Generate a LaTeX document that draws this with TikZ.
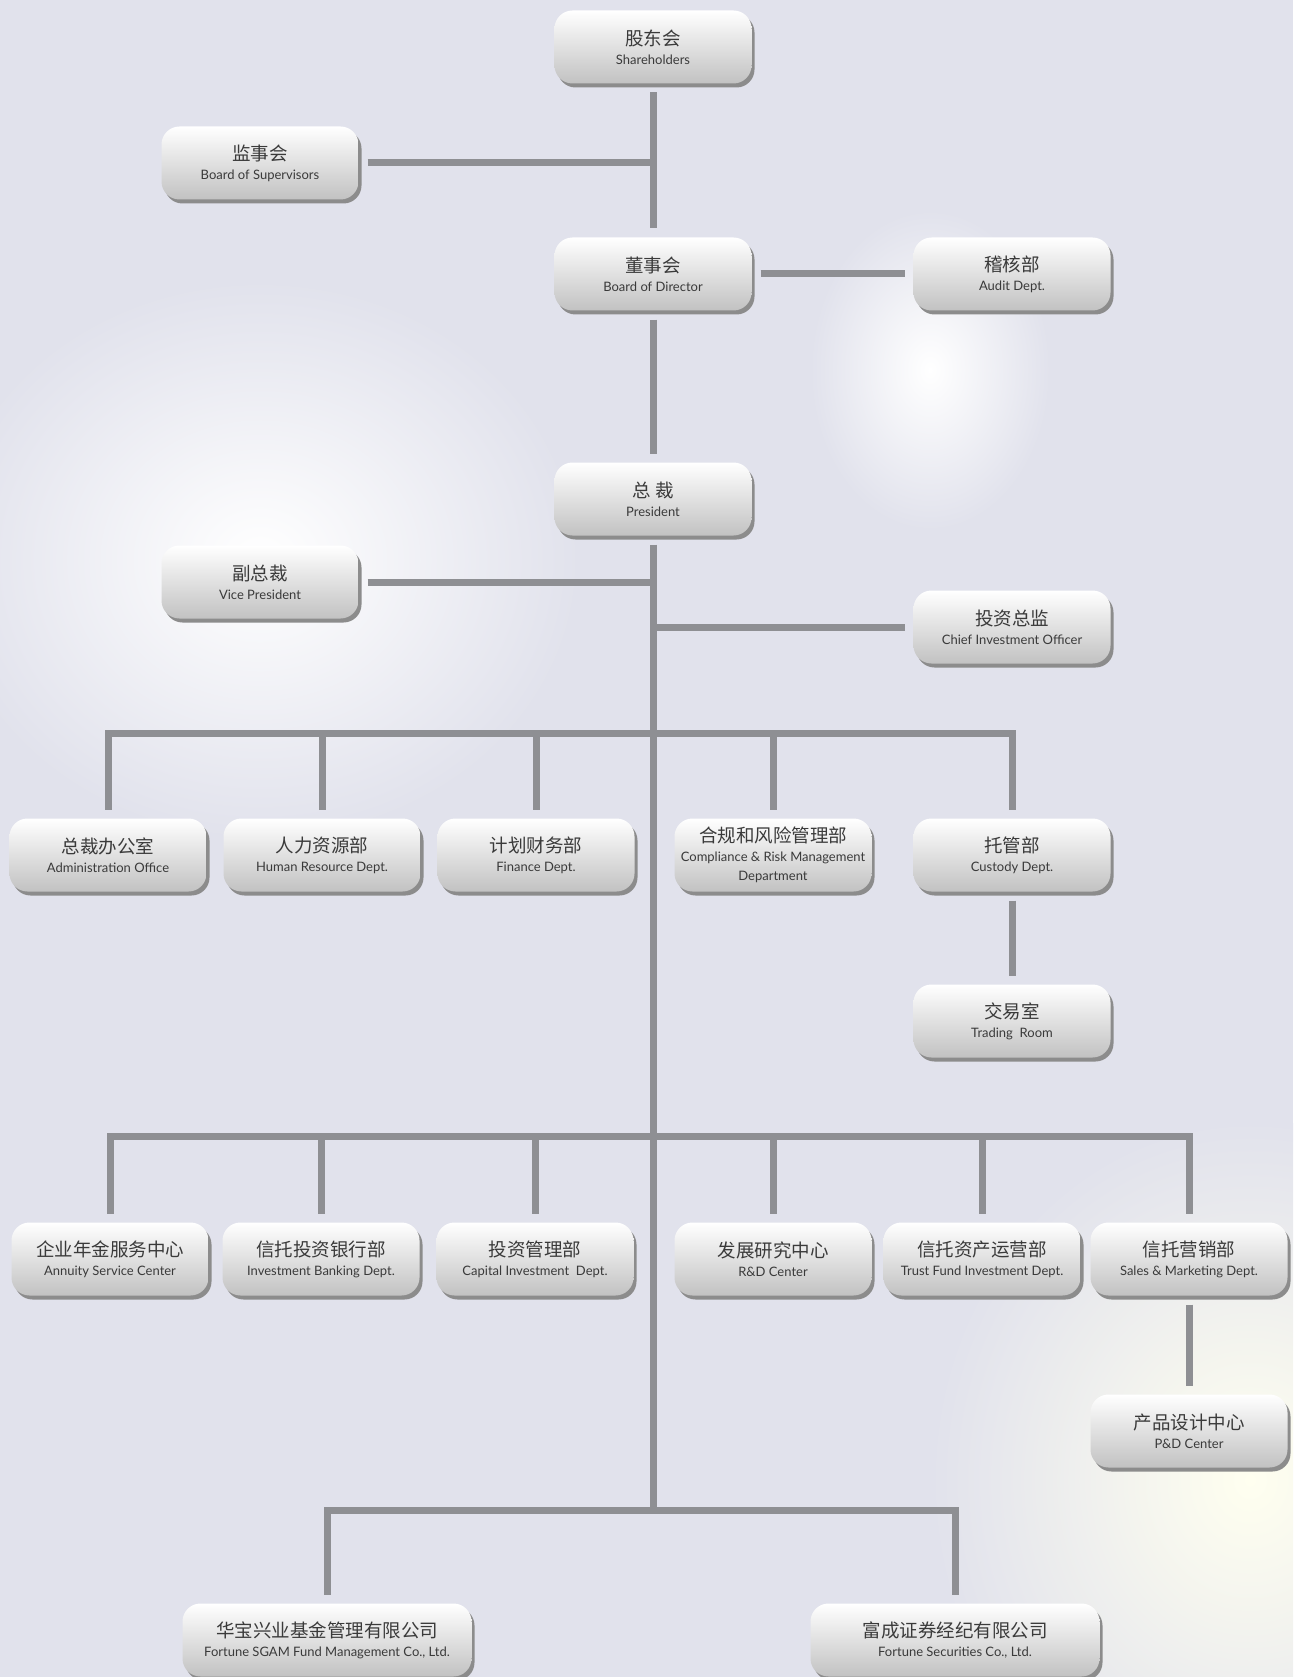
\documentclass[tikz,border=0pt]{standalone}
\usepackage{fontspec}
\setmainfont{Lato}
\newfontfamily\cjk{Noto Sans CJK SC}
\usepackage{xcolor}
\usepackage{tikz}
\usetikzlibrary{shadows}

\definecolor{linegray}{HTML}{8E8F93}
\definecolor{bgblue}{HTML}{E1E2EC}
\definecolor{textgray}{HTML}{3A3A3A}
\newcommand{\cn}[1]{{\cjk\fontsize{18.5}{24}\selectfont #1}}

\begin{document}
\begin{tikzpicture}[x=1pt, y=-1pt, node distance=100pt,
    main/.style = {rounded corners=18pt, minimum width=197pt, minimum height=73pt, align=center,
        text=textgray, top color=white, bottom color=black!24, outer sep=9pt,
        drop shadow={shadow xshift=3pt, shadow yshift=-4pt, fill=black!45, opacity=1},
        font=\fontsize{13}{19}\selectfont},
    wide/.style = {main, minimum width=289pt},
    link/.style = {draw=linegray, line width=7pt}]

    % background
    \useasboundingbox (0,0) rectangle (1293,1677);
    \clip (0,0) rectangle (1293,1677);
    \fill[bgblue] (0,0) rectangle (1293,1677);
    \shade[inner color=white, outer color=bgblue] (260,560) ellipse (320 and 280);
    \shade[inner color=white, outer color=bgblue] (930,370) ellipse (120 and 160);
    \shade[inner color=white!94!yellow, outer color=bgblue] (1250,1480) ellipse (320 and 360);

    \node[main] (1) at (653,47) {\cn{股东会}\\ Shareholders};
    \node[main] (3) [below of=1, yshift=-127pt] {\cn{董事会}\\ Board of Director};
    \node[main] (5) [below of=3, yshift=-125pt] {\cn{总 裁}\\ President};
    \node[main] (2) [left of=1, xshift=-293pt, yshift=-116pt] {\cn{监事会}\\ Board of Supervisors};
    \node[main] (4) [right of=3, xshift=259pt] {\cn{稽核部}\\ Audit Dept.};
    \node[main] (6) [left of=5, xshift=-293pt, yshift=-83pt] {\cn{副总裁}\\ Vice President};
    \node[main] (7) [right of=5, xshift=259pt, yshift=-128pt] {\cn{投资总监}\\ Chief Investment Officer};
    \node[main] (12) [below of=7, yshift=-128pt] {\cn{托管部}\\ Custody Dept.};
    \node[main] (11) [left of=12, xshift=-139pt] {\cn{合规和风险管理部}\\ Compliance \& Risk Management\\ Department};
    \node[main] (10) [left of=11, xshift=-137pt] {\cn{计划财务部}\\ Finance Dept.};
    \node[main] (9) [left of=10, xshift=-114pt] {\cn{人力资源部}\\ Human Resource Dept.};
    \node[main] (8) [left of=9, xshift=-114pt] {\cn{总裁办公室}\\ Administration Office};
    \node[main] (13) [below of=12, yshift=-66pt] {\cn{交易室}\\ Trading\ \ Room};
    \node[main] (19) [below of=13, xshift=177pt, yshift=-138pt] {\cn{信托营销部}\\ Sales \& Marketing Dept.};
    \node[main] (18) [left of=19, xshift=-107pt] {\cn{信托资产运营部}\\ Trust Fund Investment Dept.};
    \node[main] (17) [left of=18, xshift=-109pt] {\cn{发展研究中心}\\ R\&D Center};
    \node[main] (16) [left of=17, xshift=-138pt] {\cn{投资管理部}\\ Capital Investment\ \ Dept.};
    \node[main] (15) [left of=16, xshift=-114pt] {\cn{信托投资银行部}\\ Investment Banking Dept.};
    \node[main] (14) [left of=15, xshift=-111pt] {\cn{企业年金服务中心}\\ Annuity Service Center};
    \node[main] (20) [below of=19, yshift=-72pt] {\cn{产品设计中心}\\ P\&D Center};
    \node[wide] (21) [below of=15, xshift=6pt, yshift=-281pt] {\cn{华宝兴业基金管理有限公司}\\ Fortune SGAM Fund Management Co., Ltd.};
    \node[wide] (22) [right of=21, xshift=528pt] {\cn{富成证券经纪有限公司}\\ Fortune Securities Co., Ltd.};

    \coordinate (a) at (653,733);
    \coordinate (b) at (653,1136);
    \coordinate (c) at (653,1510);

    \draw[link](1) -- (3);
    \draw[link](2) -- (2 -| 1);
    \draw[link](3) -- (4);
    \draw[link](3) -- (5);
    \draw[link](5) -- (c);
    \draw[link](6) -- (6 -| 5);
    \draw[link](7) -- (7 -| 5);
    \draw[link](a) -| (8);
    \draw[link](a) -| (9);
    \draw[link](a) -| (10);
    \draw[link](a) -| (11);
    \draw[link](a) -| (12);
    \draw[link](12) -- (13);
    \draw[link](b) -| (14);
    \draw[link](b) -| (15);
    \draw[link](b) -| (16);
    \draw[link](b) -| (17);
    \draw[link](b) -| (18);
    \draw[link](b) -| (19);
    \draw[link](19) -- (20);
    \draw[link](c) -| (21);
    \draw[link](c) -| (22);

\end{tikzpicture}
\end{document}
